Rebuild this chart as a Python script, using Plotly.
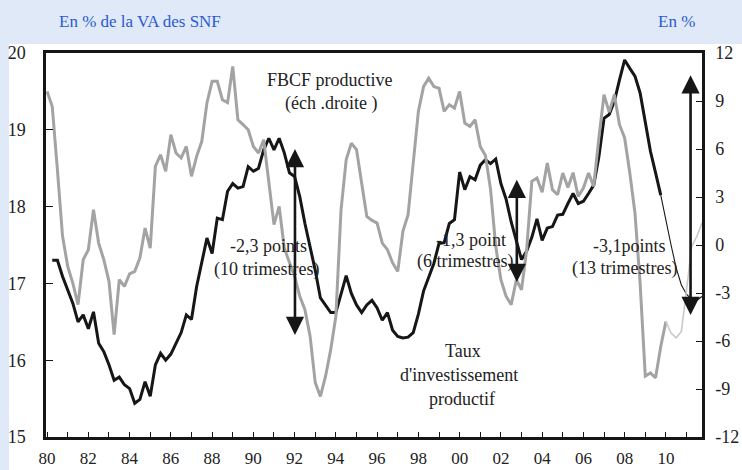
import plotly.graph_objects as go

# ---- data (quarterly, 1980T1 .. 2011T4) ----
quarters = [f"{y}T{q}" for y in range(1980, 2012) for q in range(1, 5)]

fbcf = [9.6, 8.66, 4.7, 0.54, -1.34, -2.4, -3.73, -0.92, -0.3, 2.2,
        0.12, -0.92, -2.27, -5.6, -2.17, -2.59, -1.8, -1.65, -0.81, 1.06,
        -0.19, 4.91, 5.64, 4.6, 6.9, 5.75, 5.44, 6.16, 4.29, 5.54,
        6.48, 8.88, 10.23, 10.23, 9.08, 8.9, 11.16, 7.83, 7.52, 7.2,
        6.16, 5.75, 6.58, 3.88, 1.27, 2.41, -0.19, -1.1, -1.96, -3.2,
        -4.04, -5.7, -8.6, -9.46, -8.2, -6.54, -4.46, 2.2, 5.33, 6.37,
        5.96, 3.88, 1.79, 1.54, 1.37, 0.12, -0.29, -1.12, -1.65, 0.85,
        1.89, 5.12, 8.35, 9.9, 10.43, 9.9, 9.8, 8.35, 8.77, 8.56,
        9.6, 7.62, 7.41, 7.83, 6.16, 5.6, 3.46, -0.08, -2.17, -3.2,
        -3.73, -2.17, -2.8, -0.3, 3.98, 4.19, 3.3, 5.12, 3.46, 3.14,
        4.5, 3.6, 4.52, 3.04, 3.56, 4.5, 3.66, 6.7, 9.4, 8.3,
        9.4, 7.52, 6.69, 4.5, 2.0, -2.4, -8.2, -8.0, -8.3, -6.34,
        -4.78, -5.5, -5.8, -5.4, -2.8, -0.08, 0.54, 1.37]

taux = [None, 17.3, 17.3, 17.09, 16.91, 16.74, 16.5, 16.59, 16.41, 16.63,
        16.22, 16.11, 15.94, 15.74, 15.78, 15.68, 15.63, 15.44, 15.49, 15.72,
        15.53, 15.94, 16.09, 16.0, 16.08, 16.22, 16.36, 16.59, 16.53, 16.96,
        17.3, 17.59, 17.39, 17.85, 17.83, 18.2, 18.3, 18.24, 18.26, 18.52,
        18.46, 18.5, 18.74, 18.89, 18.74, 18.89, 18.7, 18.44, 18.39, 18.13,
        17.78, 17.48, 17.17, 16.81, 16.72, 16.62, 16.62, 16.87, 17.1, 16.87,
        16.72, 16.62, 16.72, 16.78, 16.68, 16.52, 16.62, 16.39, 16.31, 16.29,
        16.3, 16.36, 16.6, 16.9, 17.09, 17.26, 17.52, 17.53, 17.78, 17.83,
        18.45, 18.22, 18.39, 18.35, 18.54, 18.61, 18.56, 18.62, 18.3, 18.1,
        17.8, 17.55, 17.31, 17.42, 17.6, 17.84, 17.56, 17.72, 17.74, 17.89,
        17.9, 18.04, 18.17, 18.04, 18.07, 18.17, 18.28, 18.65, 19.15, 19.2,
        19.37, 19.65, 19.91, 19.8, 19.7, 19.48, 19.11, 18.72, 18.44, 18.15,
        17.8, 17.5, 17.2, 16.98, 16.86, 16.79, 16.78, 16.83]

fbcf_last_observed = "2010T1"
taux_last_observed = "2009T4"

year_ticks = list(range(1980, 2012))
year_labels = [f"{y % 100:02d}" if y % 2 == 0 else "" for y in year_ticks]
left_ticks = [15, 16, 17, 18, 19, 20]
right_ticks = [-12, -9, -6, -3, 0, 3, 6, 9, 12]
right_labels = [str(v) for v in right_ticks]

# ---- helpers ----
def qpos(label):
    y, q = label.split("T")
    return int(y) + (int(q) - 1) / 4

xpos = [qpos(q) for q in quarters]
kf = quarters.index(fbcf_last_observed)
kt = quarters.index(taux_last_observed)

FONT = "Liberation Serif"
GRAY = "#a3a3a3"
LIGHTGRAY = "#c9c9c9"
BLACK = "#161616"
BLUE_BG = "#dfe9f7"
BLUE_TXT = "#2a5bd0"

fig = go.Figure()

fig.add_trace(go.Scatter(x=xpos[:kf + 1], y=fbcf[:kf + 1], yaxis="y2", mode="lines",
                         line=dict(color=GRAY, width=3), name="FBCF productive"))
fig.add_trace(go.Scatter(x=xpos[kf:], y=fbcf[kf:], yaxis="y2", mode="lines",
                         line=dict(color=LIGHTGRAY, width=1.6), name="FBCF prévision"))
fig.add_trace(go.Scatter(x=xpos[:kt + 1], y=taux[:kt + 1], mode="lines",
                         line=dict(color=BLACK, width=3), name="Taux d'investissement"))
fig.add_trace(go.Scatter(x=xpos[kt:], y=taux[kt:], mode="lines",
                         line=dict(color=BLACK, width=1.1), name="Taux prévision"))

# L-shaped blue background (top band + left strip)
W, H = 742, 470
ML, MR, MT, MB = 46, 40, 53, 33
pw, ph = W - ML - MR, H - MT - MB
def px(xp): return (xp - ML) / pw
def py(yp): return (H - MB - yp) / ph

shapes = [
    dict(type="rect", xref="paper", yref="paper", x0=px(0), x1=px(W), y0=py(44), y1=py(0),
         fillcolor=BLUE_BG, line=dict(width=0), layer="below"),
    dict(type="rect", xref="paper", yref="paper", x0=px(0), x1=px(9), y0=py(H), y1=py(0),
         fillcolor=BLUE_BG, line=dict(width=0), layer="below"),
]

ann = []
def txt(x, y, s, yref="y", size=18, color="#222"):
    ann.append(dict(x=x, y=y, xref="x", yref=yref, text=s, showarrow=False,
                    font=dict(family=FONT, size=size, color=color),
                    xanchor="center", yanchor="middle"))

def ly(yp): return 20 - (yp - 53.3) / 76.7
def lx(xp): return 1980 + (xp - 47.3) / 20.612

txt(lx(330), ly(80), "FBCF productive")
txt(lx(331), ly(104), "(éch .droite )")
txt(lx(269), ly(246), "-2,3 points")
txt(lx(267), ly(270), "(10 trimestres)")
txt(lx(471), ly(240), "-1,3 point")
txt(lx(465), ly(262), "(6 trimestres)")
txt(lx(629), ly(246), "-3,1points")
txt(lx(624), ly(269), "(13 trimestres)")
txt(lx(463), ly(351), "Taux")
txt(lx(459), ly(375), "d'investissement")
txt(lx(462), ly(399), "productif")

ann.append(dict(x=px(57), y=py(22), xref="paper", yref="paper", text="En % de la VA des SNF",
                showarrow=False, xanchor="left", yanchor="middle",
                font=dict(family=FONT, size=17, color=BLUE_TXT)))
ann.append(dict(x=px(697), y=py(22), xref="paper", yref="paper", text="En %",
                showarrow=False, xanchor="right", yanchor="middle",
                font=dict(family=FONT, size=17, color=BLUE_TXT)))

arrows = [(lx(295), 18.75, 16.31), (lx(516.7), 18.35, 17.0), (lx(690.3), 19.71, 16.57)]
for ax_, ytop, ybot in arrows:
    ann.append(dict(x=ax_, y=ytop, ax=ax_, ay=ybot, xref="x", yref="y", axref="x", ayref="y",
                    text="", showarrow=True, arrowhead=2, startarrowhead=2, arrowside="end+start",
                    arrowsize=1.4, startarrowsize=1.4, arrowwidth=2.6, arrowcolor=BLACK))

fig.update_layout(
    width=W, height=H,
    margin=dict(l=ML, r=MR, t=MT, b=MB, autoexpand=False),
    paper_bgcolor="white", plot_bgcolor="white",
    showlegend=False,
    font=dict(family=FONT, size=18, color="#222"),
    shapes=shapes, annotations=ann,
    xaxis=dict(range=[1979.947, 2011.75], tickmode="array", tickvals=year_ticks, ticktext=year_labels,
               ticks="inside", ticklen=5, tickwidth=1.3, tickcolor=BLACK,
               showline=True, linecolor=BLACK, linewidth=2.5, mirror=True,
               showgrid=False, zeroline=False, ticklabelstandoff=4, automargin=False,
               tickfont=dict(family=FONT, size=17, color="#222")),
    yaxis=dict(range=[15, 20], tickmode="array", tickvals=left_ticks,
               ticks="inside", ticklen=7, tickwidth=1.3, tickcolor=BLACK,
               showline=True, linecolor=BLACK, linewidth=2.5, mirror=True,
               showgrid=False, zeroline=False, ticklabelstandoff=14, automargin=False,
               tickfont=dict(family=FONT, size=18, color="#222")),
    yaxis2=dict(range=[-12, 12], tickmode="array", tickvals=right_ticks, ticktext=right_labels,
                overlaying="y", side="right",
                ticks="inside", ticklen=6, tickwidth=1.3, tickcolor=BLACK,
                showline=True, linecolor=BLACK, linewidth=2.5,
                showgrid=False, zeroline=False, ticklabelstandoff=7, automargin=False,
                tickfont=dict(family=FONT, size=18, color="#222")),
)

fig.write_html("out.html", config={"displayModeBar": False},
               post_script="document.body.style.margin='0';document.body.style.overflow='hidden';")
